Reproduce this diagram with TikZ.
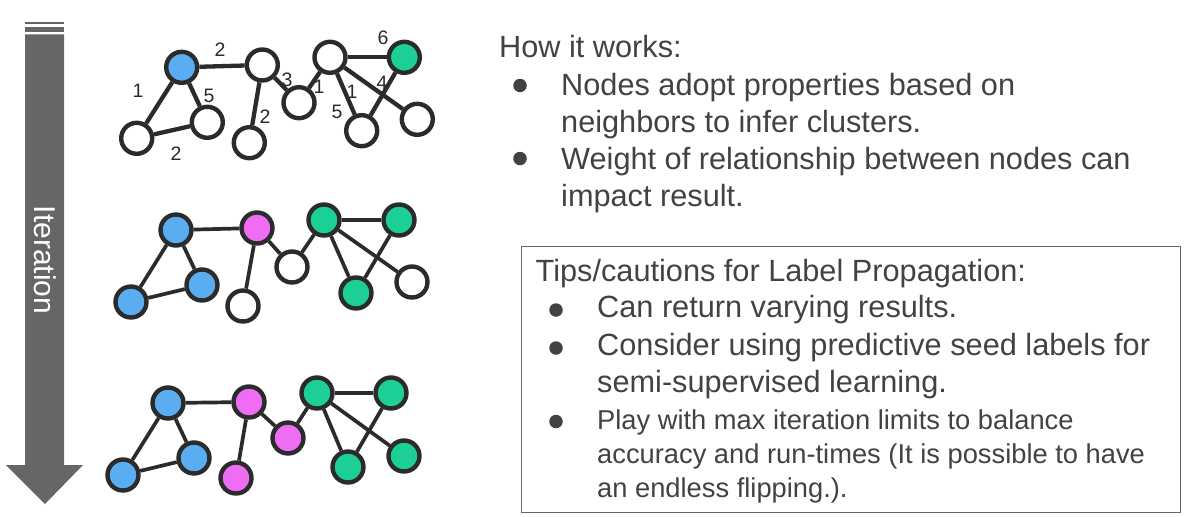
\documentclass[tikz,border=0pt]{standalone}
\usepackage{fontspec}
\setmainfont{Liberation Sans}
\usetikzlibrary{positioning}

\definecolor{nodeblue}{HTML}{5AADF0}
\definecolor{nodepink}{HTML}{EE6DF2}
\definecolor{nodegreen}{HTML}{1BCF97}
\definecolor{edgegray}{HTML}{2B2B2B}
\definecolor{arrowgray}{HTML}{666666}
\definecolor{txtgray}{HTML}{424242}

\begin{document}
\begin{tikzpicture}[x=1pt,y=-1pt,font=\fontsize{30.7}{37.3}\selectfont,text=txtgray]
            % Define the styles
            \tikzstyle{vertex} = [circle, draw=edgegray, line width=4.4pt, minimum size=31pt, inner sep=0pt, fill=white]
            \tikzstyle{blue} = [vertex, fill=nodeblue]
            \tikzstyle{pink} = [vertex, fill=nodepink]
            \tikzstyle{green} = [vertex, fill=nodegreen]
            \tikzstyle{link} = [draw=edgegray, line width=4.3pt]
            \tikzstyle{thinlink} = [draw=edgegray, line width=3.7pt]
            \tikzstyle{weight} = [font=\fontsize{19.5}{21}\selectfont, text=edgegray, inner sep=0pt]
            \tikzstyle{line} = [anchor=base west, inner sep=0pt]
            \tikzstyle{smallline} = [line, font=\fontsize{27.3}{34}\selectfont]
            \tikzstyle{dot} = [circle, fill=txtgray, minimum size=13.5pt, inner sep=0pt]

            \useasboundingbox (0,0) rectangle (1195,517);

            % Iteration arrow
            \fill[arrowgray] (25,22.3) rectangle (64,24.3);
            \fill[arrowgray] (25,26.7) rectangle (64,32.3);
            \fill[arrowgray] (25,34.3) -- (64,34.3) -- (64,465) -- (83,465) -- (45,504) -- (6,465) -- (25,465) -- cycle;
            \node[rotate=-90, text=white, font=\fontsize{30}{32}\selectfont, inner sep=0pt] (iteration) at (45,260) {Iteration};

            % First graph: weighted, two seed labels
            \node [blue] (a1) at (181.7,67.3) {};
            \node [vertex] (b1) at (262.3,65) {};
            \node [vertex] (c1) at (136.7,138.3) {};
            \node [vertex] (d1) at (207.3,122.3) {};
            \node [vertex] (e1) at (249.3,142.7) {};
            \node [vertex] (f1) at (299,102.7) {};
            \node [vertex] (g1) at (330,57.3) {};
            \node [green] (h1) at (404.3,57.3) {};
            \node [vertex] (i1) at (361.7,130.7) {};
            \node [vertex] (j1) at (417.3,119.3) {};

            % Second graph
            \node [blue] (a2) at (176,230) {};
            \node [pink] (b2) at (257,228) {};
            \node [blue] (c2) at (131,302) {};
            \node [blue] (d2) at (202,285) {};
            \node [vertex] (e2) at (243,306) {};
            \node [vertex] (f2) at (292,267) {};
            \node [green] (g2) at (324,220) {};
            \node [green] (h2) at (399,220) {};
            \node [green] (i2) at (356,293) {};
            \node [vertex] (j2) at (412,282) {};

            % Third graph
            \node [blue] (a3) at (168,403) {};
            \node [pink] (b3) at (249,402) {};
            \node [blue] (c3) at (123,475) {};
            \node [blue] (d3) at (194,458) {};
            \node [pink] (e3) at (236,478) {};
            \node [pink] (f3) at (288,438) {};
            \node [green] (g3) at (317,393) {};
            \node [green] (h3) at (391,393) {};
            \node [green] (i3) at (348,467) {};
            \node [green] (j3) at (404,456) {};

            % Edges
            \draw[link] (a1) -- (b1);
            \draw[link] (a1) -- (c1);
            \draw[link] (a1) -- (d1);
            \draw[link] (c1) -- (d1);
            \draw[link] (b1) -- (e1);
            \draw[link] (b1) -- (f1);
            \draw[link] (f1) -- (g1);
            \draw[link] (g1) -- (h1);
            \draw[link] (g1) -- (i1);
            \draw[link] (g1) -- (j1);
            \draw[link] (h1) -- (i1);
            \foreach \g in {2,3} {
                \draw[thinlink] (a\g) -- (b\g);
                \draw[thinlink] (a\g) -- (c\g);
                \draw[thinlink] (a\g) -- (d\g);
                \draw[thinlink] (c\g) -- (d\g);
                \draw[thinlink] (b\g) -- (e\g);
                \draw[thinlink] (b\g) -- (f\g);
                \draw[thinlink] (f\g) -- (g\g);
                \draw[thinlink] (g\g) -- (h\g);
                \draw[thinlink] (g\g) -- (i\g);
                \draw[thinlink] (g\g) -- (j\g);
                \draw[thinlink] (h\g) -- (i\g);
            }

            % Weights
            \node[weight] (wab) at (220,50) {2};
            \node[weight] (wac) at (138,91) {1};
            \node[weight] (wad) at (209,96) {5};
            \node[weight] (wcd) at (176,154) {2};
            \node[weight] (wbe) at (265,117) {2};
            \node[weight] (wbf) at (287,80) {3};
            \node[weight] (wfg) at (319,87) {1};
            \node[weight] (wgh) at (383,38) {6};
            \node[weight] (wgi) at (352,92) {1};
            \node[weight] (wgj) at (382,83) {4};
            \node[weight] (whi) at (337,112) {5};

            % How it works
            \node[line] (how) at (499,57) {How it works:};
            \node[dot] (dot1) at (520,85.5) {};
            \node[line] (item1a) at (561,95) {Nodes adopt properties based on};
            \node[line] (item1b) at (561,132) {neighbors to infer clusters.};
            \node[dot] (dot2) at (520,158.5) {};
            \node[line] (item2a) at (561,169) {Weight of relationship between nodes can};
            \node[line] (item2b) at (561,206) {impact result.};

            % Tips box
            \node[draw=arrowgray, line width=1.3pt, anchor=north west, minimum width=659pt, minimum height=266pt, inner sep=0pt] (tipsbox) at (521,245.7) {};
            \node[line] (tips) at (535.5,281) {Tips/cautions for Label Propagation:};
            \node[dot] (dot3) at (556,310) {};
            \node[line] (tip1) at (597,317) {Can return varying results.};
            \node[dot] (dot4) at (556,348) {};
            \node[line] (tip2a) at (597,355) {Consider using predictive seed labels for};
            \node[line] (tip2b) at (597,392) {semi-supervised learning.};
            \node[dot] (dot5) at (556,421.5) {};
            \node[smallline] (tip3a) at (597,429) {Play with max iteration limits to balance};
            \node[smallline] (tip3b) at (597,463) {accuracy and run-times (It is possible to have};
            \node[smallline] (tip3c) at (597,497) {an endless flipping.).};
        \end{tikzpicture}
\end{document}
